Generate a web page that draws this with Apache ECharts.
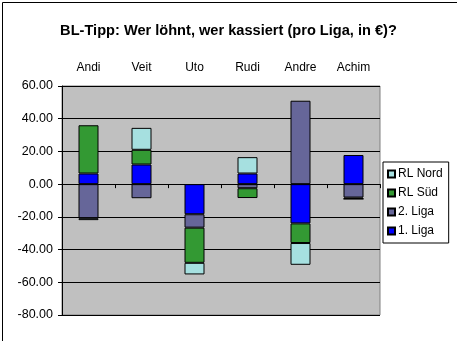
<!DOCTYPE html>
<html>
<head>
<meta charset="utf-8">
<script src="https://cdn.jsdelivr.net/npm/echarts@6/dist/echarts.min.js"></script>
<style>
html,body{margin:0;padding:0;background:#fff;}
#c{width:457px;height:341px;}
</style>
</head>
<body>
<div id="c"></div>
<script>
const categories = ['Andi', 'Veit', 'Uto', 'Rudi', 'Andre', 'Achim'];
const liga1 = [6.5, 12, -18.4, 6.5, -24, 17.8];
const liga2 = [-20.8, -8.6, -8.2, -2.5, 51, -8.2];
const rlSued = [29.5, 9, -21.5, -6, -12, -0.8];
const rlNord = [-1.2, 13.4, -7.1, 10, -13.3, 0];
const yTicks = { min: -80, max: 60, step: 20 };

const font = 'Liberation Sans, Arial, sans-serif';
const chart = echarts.init(document.getElementById('c'), null, { renderer: 'canvas' });

function mk(name, data, color) {
  return {
    name: name, type: 'bar', stack: 'all', data: data,
    barWidth: 20, xAxisIndex: 0,
    itemStyle: { color: color, borderColor: '#000', borderWidth: 1 },
    emphasis: { disabled: true }
  };
}

chart.setOption({
  animation: false,
  backgroundColor: '#fff',
  title: {
    text: 'BL-Tipp: Wer löhnt, wer kassiert (pro Liga, in €)?',
    left: 'center', top: 18,
    textStyle: { fontFamily: font, fontSize: 14.6, fontWeight: 'bold', color: '#000' }
  },
  graphic: [{
    type: 'rect', left: 0, top: 0, silent: true, z: 100,
    shape: { x: 0.5, y: 0.5, width: 456, height: 340 },
    style: { fill: 'none', stroke: '#000', lineWidth: 1 }
  }],
  grid: {
    left: 62, right: 77, top: 86, bottom: 26,
    show: true, backgroundColor: '#C0C0C0', borderColor: '#808080', borderWidth: 1
  },
  legend: {
    orient: 'vertical', left: 383, top: 162,
    data: ['RL Nord', 'RL Süd', '2. Liga', '1. Liga'],
    backgroundColor: '#fff', borderColor: '#000', borderWidth: 1,
    padding: [5, 6, 5, 4],
    itemWidth: 7, itemHeight: 7, itemGap: 5,
    icon: 'rect',
    textStyle: { fontFamily: font, fontSize: 12, color: '#000', lineHeight: 14, padding: [0, 0, 0, -2] }
  },
  xAxis: [{
    type: 'category', data: categories, position: 'bottom',
    axisLine: { onZero: true, lineStyle: { color: '#000', width: 1 } },
    axisTick: { show: true, alignWithLabel: false, length: 4, lineStyle: { color: '#000' } },
    axisLabel: { show: false },
    splitLine: { show: false }
  }, {
    type: 'category', data: categories, position: 'top',
    axisLine: { show: false, onZero: false },
    axisTick: { show: false },
    axisLabel: { show: true, margin: 12, fontFamily: font, fontSize: 12, color: '#000' },
    splitLine: { show: false }
  }],
  yAxis: {
    type: 'value', min: yTicks.min, max: yTicks.max, interval: yTicks.step,
    axisLine: { show: true, lineStyle: { color: '#000', width: 1 } },
    axisTick: { show: true, length: 4, lineStyle: { color: '#000' } },
    axisLabel: {
      fontFamily: font, fontSize: 12.5, color: '#000', margin: 9,
      formatter: function (v) { return v.toFixed(2); }
    },
    splitLine: { show: true, lineStyle: { color: '#000', width: 1 } }
  },
  series: [
    mk('1. Liga', liga1, '#0000FF'),
    mk('2. Liga', liga2, '#666699'),
    mk('RL Süd', rlSued, '#339933'),
    mk('RL Nord', rlNord, '#A6E0E0'),
    { type: 'bar', xAxisIndex: 1, data: [], name: '_dummy' }
  ]
});
</script>
</body>
</html>
